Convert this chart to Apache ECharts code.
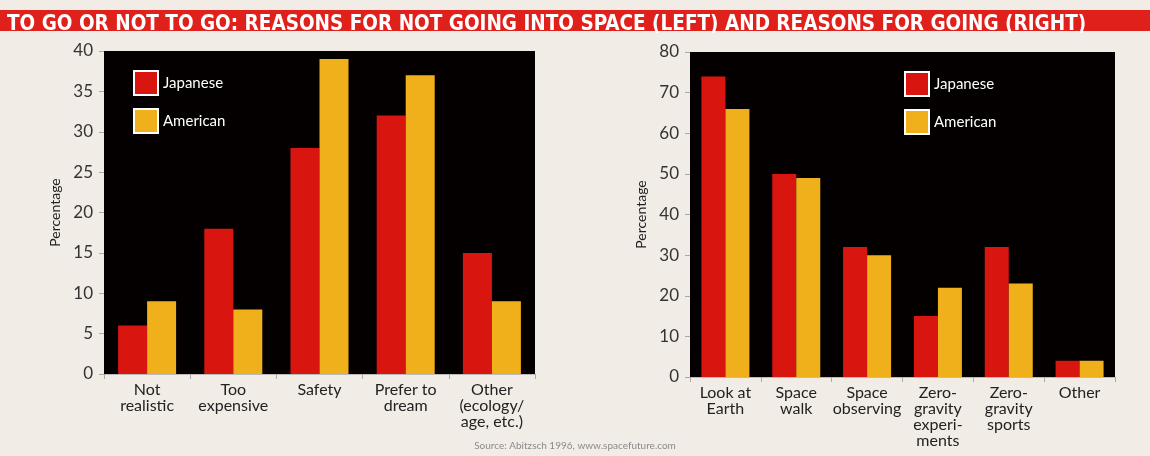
<!DOCTYPE html>
<html>
<head>
<meta charset="utf-8">
<script src="https://cdn.jsdelivr.net/npm/echarts@6/dist/echarts.min.js"></script>
<style>
  html, body { margin: 0; padding: 0; background: #f2ece6; }
  #main { width: 1150px; height: 456px; }
</style>
</head>
<body>
<div id="main"></div>
<script>
// 左图：不去太空的理由
var leftCats = ['Not\nrealistic', 'Too\nexpensive', 'Safety', 'Prefer to\ndream', 'Other\n(ecology/\nage, etc.)'];
var leftJapanese = [6, 18, 28, 32, 15];
var leftAmerican = [9, 8, 39, 37, 9];

// 右图：去太空的理由
var rightCats = ['Look at\nEarth', 'Space\nwalk', 'Space\nobserving', 'Zero-\ngravity\nexperi-\nments', 'Zero-\ngravity\nsports', 'Other'];
var rightJapanese = [74, 50, 32, 15, 32, 4];
var rightAmerican = [66, 49, 30, 22, 23, 4];

var seriesNames = ['Japanese', 'American'];
var red = '#d8150f', gold = '#efb01c';
var fontFam = '"Lato", "Noto Sans", sans-serif';

var chart = echarts.init(document.getElementById('main'));

function yAxisOf(idx, max, step) {
    return {
        gridIndex: idx, type: 'value', min: 0, max: max, interval: step,
        name: 'Percentage', nameLocation: 'middle', nameGap: 42,
        nameTextStyle: { color: '#222', fontSize: 14, fontFamily: fontFam },
        axisLine: { show: false },
        axisTick: { show: true, length: 5, lineStyle: { color: '#aaa' } },
        splitLine: { show: false },
        axisLabel: { color: '#333', fontSize: 17, margin: 11, fontFamily: fontFam }
    };
}
function xAxisOf(idx, cats) {
    return {
        gridIndex: idx, type: 'category', data: cats,
        axisLine: { show: true, lineStyle: { color: '#bbb' } },
        axisTick: { show: true, length: 5, lineStyle: { color: '#aaa' } },
        axisLabel: { color: '#222', fontSize: 16, lineHeight: 16, margin: 8, fontFamily: fontFam, interval: 0 }
    };
}
function legendOf(left, top) {
    return {
        left: left, top: top, orient: 'vertical', itemGap: 12,
        itemWidth: 24, itemHeight: 24, icon: 'rect',
        data: seriesNames,
        textStyle: { color: '#fff', fontSize: 15, fontFamily: fontFam },
        itemStyle: { borderColor: '#fff', borderWidth: 2 }
    };
}
function barOf(name, data, color, idx, w) {
    return {
        name: name, type: 'bar', data: data,
        xAxisIndex: idx, yAxisIndex: idx,
        barWidth: w, barGap: '0%',
        itemStyle: { color: color }
    };
}

var option = {
    backgroundColor: '#f2ece6',
    animation: false,
    title: {
        text: 'TO GO OR NOT TO GO: REASONS FOR NOT GOING INTO SPACE (LEFT) AND REASONS FOR GOING (RIGHT)',
        left: 2, top: 9,
        textStyle: { color: '#fff', fontSize: 20.5, fontWeight: 'bold', fontFamily: '"Liberation Sans Narrow", "DejaVu Sans Condensed", sans-serif' }
    },
    graphic: [
        { type: 'rect', z: -1, shape: { x: 0, y: 10, width: 1150, height: 21 }, style: { fill: '#e0201b' } },
        { type: 'text', left: 'center', top: 441, style: { text: 'Source: Abitzsch 1996, www.spacefuture.com', fill: '#8a8a8a', fontSize: 10, fontFamily: fontFam } }
    ],
    legend: [legendOf(128, 65), legendOf(899, 66)],
    grid: [
        { left: 104, right: 615, top: 51, bottom: 82, show: true, backgroundColor: '#040000', borderWidth: 0 },
        { left: 690, right: 35, top: 52, bottom: 79, show: true, backgroundColor: '#040000', borderWidth: 0 }
    ],
    xAxis: [xAxisOf(0, leftCats), xAxisOf(1, rightCats)],
    yAxis: [yAxisOf(0, 40, 5), yAxisOf(1, 80, 10)],
    series: [
        barOf(seriesNames[0], leftJapanese, red, 0, 29),
        barOf(seriesNames[1], leftAmerican, gold, 0, 29),
        barOf(seriesNames[0], rightJapanese, red, 1, 24),
        barOf(seriesNames[1], rightAmerican, gold, 1, 24)
    ]
};
chart.setOption(option);
</script>
</body>
</html>
